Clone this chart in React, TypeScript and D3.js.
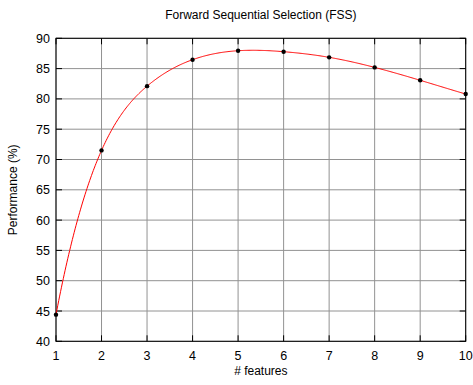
import React from "react";
import * as d3 from "d3";

const features = [1, 2, 3, 4, 5, 6, 7, 8, 9, 10];
const performance = [44.4, 71.5, 82.1, 86.47, 87.95, 87.79, 86.86, 85.2, 83.07, 80.8];
const yTicks = [40, 45, 50, 55, 60, 65, 70, 75, 80, 85, 90];
const xTicks = [1, 2, 3, 4, 5, 6, 7, 8, 9, 10];

const W = 473;
const H = 385;
const left = 56;
const right = 465.7;
const top = 38.3;
const bottom = 341.3;
const font = "'Liberation Sans', Arial, Helvetica, sans-serif";

// Cubic spline with not-a-knot end conditions; returns an evaluator.
function notAKnotSpline(xs: number[], ys: number[]) {
  const n = xs.length;
  const h = xs.slice(1).map((v, i) => v - xs[i]);
  const A: number[][] = Array.from({ length: n }, () => new Array(n + 1).fill(0));
  // first row: third derivative continuous at xs[1]
  A[0][0] = h[1];
  A[0][1] = -(h[0] + h[1]);
  A[0][2] = h[0];
  for (let i = 1; i < n - 1; i++) {
    A[i][i - 1] = h[i - 1];
    A[i][i] = 2 * (h[i - 1] + h[i]);
    A[i][i + 1] = h[i];
    A[i][n] = 6 * ((ys[i + 1] - ys[i]) / h[i] - (ys[i] - ys[i - 1]) / h[i - 1]);
  }
  A[n - 1][n - 3] = h[n - 2];
  A[n - 1][n - 2] = -(h[n - 3] + h[n - 2]);
  A[n - 1][n - 1] = h[n - 3];
  // Gaussian elimination with partial pivoting
  for (let c = 0; c < n; c++) {
    let p = c;
    for (let r = c + 1; r < n; r++) if (Math.abs(A[r][c]) > Math.abs(A[p][c])) p = r;
    [A[c], A[p]] = [A[p], A[c]];
    for (let r = 0; r < n; r++) {
      if (r === c) continue;
      const f = A[r][c] / A[c][c];
      for (let k = c; k <= n; k++) A[r][k] -= f * A[c][k];
    }
  }
  const M = A.map((row, i) => row[n] / row[i]);
  return (x: number) => {
    let i = Math.min(n - 2, Math.max(0, d3.bisectRight(xs, x) - 1));
    const hi = h[i];
    const a = xs[i + 1] - x;
    const b = x - xs[i];
    return (
      (M[i] * a * a * a) / (6 * hi) +
      (M[i + 1] * b * b * b) / (6 * hi) +
      (ys[i] / hi - (M[i] * hi) / 6) * a +
      (ys[i + 1] / hi - (M[i + 1] * hi) / 6) * b
    );
  };
}

export default function App() {
  const x = d3.scaleLinear().domain([1, 10]).range([left, right]);
  const y = d3.scaleLinear().domain([40, 90]).range([bottom, top]);
  const pts = features.map((f, i) => [f, performance[i]] as [number, number]);
  const spline = notAKnotSpline(features, performance);
  const samples = d3.range(1, 10.0001, 0.02).map((t) => [t, spline(t)] as [number, number]);
  const line = d3
    .line<[number, number]>()
    .x((d) => x(d[0]))
    .y((d) => y(d[1]));
  const tick = 6;

  return (
    <svg
      width={W}
      height={H}
      style={{ position: "absolute", left: 0, top: 0, background: "#fff" }}
      fontFamily={font}
    >
      <rect x={0} y={0} width={W} height={H} fill="#fff" />
      {/* grid */}
      {xTicks.map((t) => (
        <line key={"gx" + t} x1={x(t)} x2={x(t)} y1={top} y2={bottom} stroke="#929292" strokeWidth={1} />
      ))}
      {yTicks.map((t) => (
        <line key={"gy" + t} x1={left} x2={right} y1={y(t)} y2={y(t)} stroke="#929292" strokeWidth={1} />
      ))}
      {/* inward ticks */}
      {xTicks.map((t) => (
        <g key={"tx" + t} stroke="#000" strokeWidth={1}>
          <line x1={x(t)} x2={x(t)} y1={bottom} y2={bottom - tick} />
          <line x1={x(t)} x2={x(t)} y1={top} y2={top + tick} />
        </g>
      ))}
      {yTicks.map((t) => (
        <g key={"ty" + t} stroke="#000" strokeWidth={1}>
          <line x1={left} x2={left + tick} y1={y(t)} y2={y(t)} />
          <line x1={right} x2={right - tick} y1={y(t)} y2={y(t)} />
        </g>
      ))}
      {/* frame */}
      <rect x={left} y={top} width={right - left} height={bottom - top} fill="none" stroke="#000" strokeWidth={1} />
      {/* fitted curve */}
      <path d={line(samples) || ""} fill="none" stroke="#ff0000" strokeWidth={1} />
      {pts.map((p, i) => (
        <circle key={"p" + i} cx={x(p[0])} cy={y(p[1])} r={2.2} fill="#000" />
      ))}
      {/* tick labels */}
      {yTicks.map((t) => (
        <text key={"ly" + t} x={left - 6} y={y(t)} dy="0.36em" textAnchor="end" fontSize={12.5} fill="#000">
          {t}
        </text>
      ))}
      {xTicks.map((t) => (
        <text key={"lx" + t} x={x(t)} y={bottom + 19} textAnchor="middle" fontSize={12.5} fill="#000">
          {t}
        </text>
      ))}
      {/* titles */}
      <text x={(left + right) / 2} y={19} textAnchor="middle" fontSize={12} fill="#000">
        Forward Sequential Selection (FSS)
      </text>
      <text x={(left + right) / 2} y={375} textAnchor="middle" fontSize={12} fill="#000">
        # features
      </text>
      <text
        transform={`translate(17,${(top + bottom) / 2}) rotate(-90)`}
        textAnchor="middle"
        fontSize={12}
        fill="#000"
      >
        Performance (%)
      </text>
    </svg>
  );
}
